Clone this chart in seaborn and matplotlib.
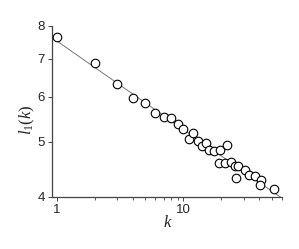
import numpy as np
import pandas as pd
import matplotlib
matplotlib.use("Agg")
import matplotlib.pyplot as plt
import matplotlib.ticker as mticker
import seaborn as sns

# degree k and l_1(k)
k_vals = [1, 2, 3, 4, 5, 6, 7, 8, 9, 10, 11, 12, 13, 14, 15, 16, 17.6, 19.5, 22,
          19.2, 21.4, 23.9, 25.7, 27.2, 26.2, 30.9, 33.3, 37.1, 41.4, 40.6, 52.5]
l1_vals = [7.64, 6.88, 6.32, 5.97, 5.85, 5.62, 5.53, 5.50, 5.37, 5.27, 5.05, 5.18, 5.02,
           4.92, 4.97, 4.84, 4.81, 4.84, 4.94, 4.59, 4.59, 4.61, 4.53, 4.53, 4.32,
           4.46, 4.37, 4.35, 4.29, 4.20, 4.13]

x_ticks = [1, 10]
y_ticks = [4, 5, 6, 7, 8]

df = pd.DataFrame({"k": k_vals, "l1": l1_vals})

# power-law fit in log-log space
slope, icpt = np.polyfit(np.log10(df["k"]), np.log10(df["l1"]), 1)
fit_k = np.array([1.0, 60.0])
fit = pd.DataFrame({"k": fit_k, "l1": 10 ** (icpt + slope * np.log10(fit_k))})

sns.set_style("ticks")
plt.rcParams["font.family"] = ["Liberation Sans", "DejaVu Sans"]
plt.rcParams["mathtext.fontset"] = "custom"
plt.rcParams["mathtext.it"] = "Liberation Serif:italic"
plt.rcParams["mathtext.rm"] = "Liberation Serif"

fig = plt.figure(figsize=(2.99, 2.49), dpi=100)
ax = fig.add_axes([0.174, 0.209, 0.769, 0.687])

sns.lineplot(data=fit, x="k", y="l1", color="#777777", lw=0.7, ax=ax)
sns.scatterplot(data=df, x="k", y="l1", s=38, facecolor="white", edgecolor="black",
                linewidth=0.8, ax=ax, zorder=3)

ax.set_xscale("log")
ax.set_yscale("log")
ax.set_xlim(0.913, 60.4)
ax.set_ylim(4, 8)
ax.set_xticks(x_ticks)
ax.set_xticklabels([str(t) for t in x_ticks])
ax.xaxis.set_minor_locator(mticker.LogLocator(base=10, subs=np.arange(2, 10)))
ax.xaxis.set_minor_formatter(mticker.NullFormatter())
ax.set_yticks(y_ticks)
ax.set_yticklabels([str(t) for t in y_ticks])
ax.yaxis.set_minor_locator(mticker.NullLocator())

sns.despine(ax=ax)
for s in ["left", "bottom"]:
    ax.spines[s].set_color("#444444")
    ax.spines[s].set_linewidth(0.9)
ax.tick_params(axis="both", which="major", length=3, width=0.7, color="#444444",
               labelsize=9.5, pad=2)
ax.tick_params(axis="x", which="minor", length=2, width=0.6, color="#444444")

ax.set_xlabel("k", family="Liberation Serif", style="italic", fontsize=12, labelpad=-1)
ax.set_ylabel(r"$l_1(k)$", fontsize=12)
ax.yaxis.set_label_coords(-0.065, 0.45)

fig.savefig("out.png", dpi=100)
